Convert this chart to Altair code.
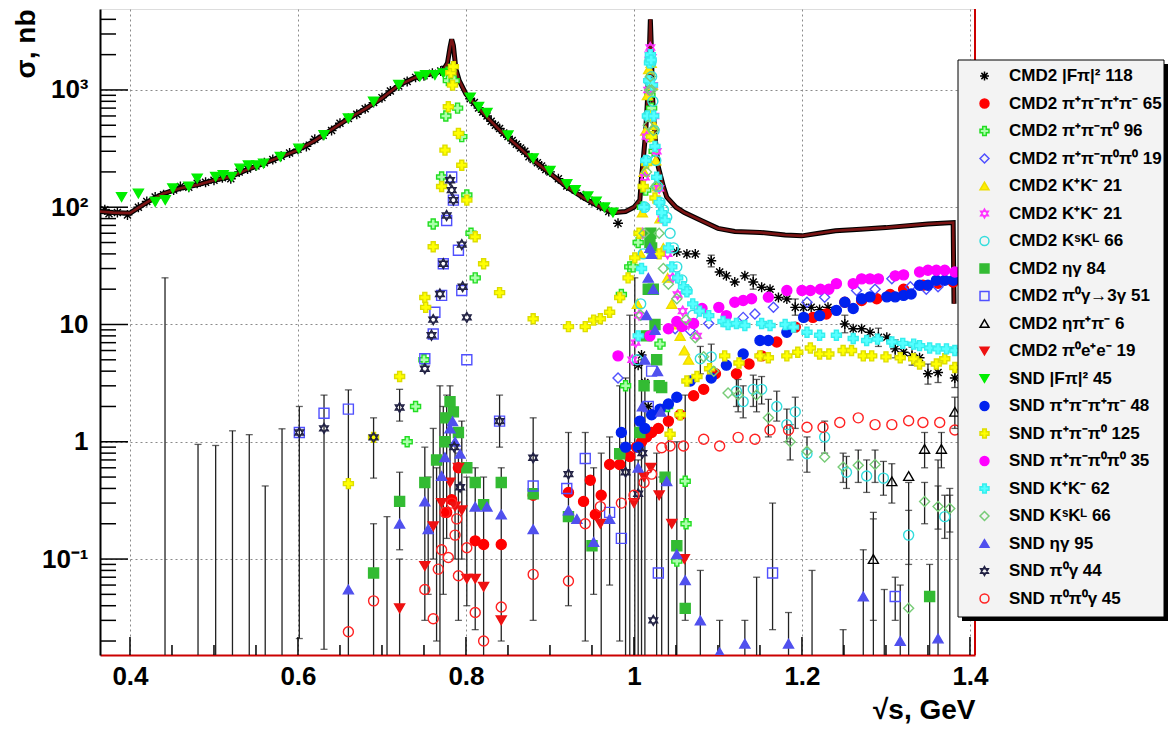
import altair as alt
import pandas as pd

# ---------------- data ----------------
# total cross-section histogram (brown curve)
hist_x = [0.364, 0.38, 0.40, 0.42, 0.44, 0.46, 0.48, 0.50, 0.52, 0.54, 0.56, 0.58, 0.60, 0.62, 0.64,
          0.66, 0.68, 0.70, 0.72, 0.74, 0.755, 0.765, 0.773, 0.778, 0.781, 0.783, 0.785, 0.788, 0.792,
          0.80, 0.82, 0.84, 0.86, 0.88, 0.90, 0.92, 0.94, 0.96, 0.975, 0.99, 1.000, 1.007, 1.009,
          1.011, 1.014, 1.016, 1.018, 1.0195, 1.0205, 1.022, 1.025, 1.029, 1.035, 1.039, 1.05, 1.06,
          1.08, 1.10, 1.12, 1.15, 1.18, 1.20, 1.22, 1.24, 1.27, 1.30, 1.33, 1.35, 1.38, 1.381]
hist_y = [92, 90, 89, 110, 131, 145, 155, 170, 182, 210, 238, 270, 307, 370, 460,
          570, 690, 850, 1100, 1280, 1350, 1400, 1480, 1700, 2300, 2700, 2400, 1500, 1200,
          920, 640, 455, 340, 252, 195, 149, 120, 100, 90, 92, 100, 115, 180,
          250, 450, 800, 1800, 4000, 2500, 900, 400, 220, 150, 122, 100, 90,
          77, 66, 62, 61, 58, 57, 60, 63, 65, 67, 70, 72, 74, 15]

cmd2_fpi = [(0.370, 95), (0.375, 88), (0.385, 90), (0.397, 86), (0.410, 100), (0.420, 112), (0.430, 122),
            (0.440, 128), (0.452, 140), (0.460, 150), (0.470, 148), (0.480, 160), (0.490, 163), (0.500, 170),
            (0.510, 178), (0.520, 175), (0.530, 200), (0.540, 212), (0.550, 225), (0.560, 240), (0.570, 255),
            (0.580, 272), (0.590, 290), (0.600, 312), (0.610, 330), (0.620, 380), (0.630, 410), (0.640, 450),
            (0.650, 520), (0.660, 570), (0.670, 620), (0.680, 690), (0.690, 780), (0.700, 860), (0.710, 980),
            (0.720, 1080), (0.730, 1180), (0.740, 1280), (0.750, 1320), (0.760, 1390), (0.770, 1450),
            (0.775, 1500), (0.805, 840), (0.810, 780), (0.815, 700), (0.820, 650), (0.825, 600), (0.830, 540),
            (0.835, 500), (0.840, 470), (0.845, 430), (0.850, 400), (0.855, 370), (0.860, 345), (0.865, 320),
            (0.870, 300), (0.875, 270), (0.880, 255), (0.885, 240), (0.890, 225), (0.895, 210), (0.900, 200),
            (0.910, 175), (0.920, 152), (0.930, 140), (0.940, 125), (0.950, 112), (0.960, 102), (0.970, 92),
            (0.981, 73), (1.005, 4.5), (1.009, 5.5), (1.013, 3.2), (1.017, 2.0), (1.051, 41.5), (1.063, 40),
            (1.073, 40), (1.092, 35), (1.102, 28), (1.110, 26), (1.120, 23), (1.132, 26), (1.142, 23),
            (1.152, 20.8), (1.162, 20), (1.172, 17), (1.182, 16.5), (1.192, 14), (1.202, 14), (1.211, 14),
            (1.221, 13.4), (1.231, 14), (1.251, 10.1), (1.261, 9.2), (1.271, 9.2), (1.281, 8.6), (1.291, 7.8),
            (1.301, 7.8), (1.311, 6.2), (1.321, 5.8), (1.331, 5.4), (1.340, 5.2), (1.350, 3.8), (1.362, 3.9),
            (1.382, 3.5)]
cmd2_4pi = [(0.777, 0.25), (0.783, 0.32), (0.791, 0.6), (0.811, 0.143), (0.821, 0.133), (0.842, 0.133),
            (0.880, 0.35), (0.922, 0.37), (0.940, 0.31), (0.948, 0.47), (0.954, 0.24), (0.961, 0.35),
            (0.971, 0.64), (0.983, 0.64), (0.995, 0.75), (1.003, 0.9), (1.009, 1.0), (1.015, 1.1),
            (1.021, 1.2), (1.029, 1.3), (1.041, 1.5), (1.055, 1.7), (1.071, 2.47), (1.083, 2.8),
            (1.097, 3.8), (1.122, 3.8), (1.137, 4.6), (1.152, 5.4), (1.170, 7.1), (1.192, 9.5),
            (1.213, 11.5), (1.229, 12.3), (1.251, 15.5), (1.271, 16), (1.289, 16.6), (1.305, 18),
            (1.321, 20), (1.344, 21.6), (1.362, 22.5), (1.380, 23)]
cmd2_3pi = [(0.730, 1.0), (0.740, 2.0), (0.750, 5), (0.761, 72), (0.771, 181), (0.776, 600), (0.779, 1200),
            (0.782, 1500), (0.786, 1200), (0.790, 700), (0.795, 400), (0.801, 127), (0.806, 60), (0.811, 25),
            (0.983, 0.79), (0.985, 18), (0.990, 3), (0.995, 31), (0.999, 31), (1.005, 50), (1.010, 100),
            (1.014, 140), (1.017, 400), (1.019, 900), (1.021, 700), (1.024, 300), (1.028, 150), (1.031, 6.8),
            (1.040, 2), (1.051, 0.096), (1.061, 0.46), (1.062, 0.2)]
cmd2_2pi2pi0 = [(0.981, 3.5), (1.049, 9.2), (1.067, 8.9), (1.089, 10.2), (1.130, 11.5), (1.144, 12.3),
                (1.166, 14), (1.206, 15.5), (1.227, 17.1), (1.265, 19.5), (1.287, 20), (1.307, 24.5),
                (1.329, 21), (1.348, 20), (1.362, 21)]
cmd2_kk_a = [(1.004, 15), (1.008, 40), (1.010, 90), (1.012, 200), (1.014, 450), (1.016, 900), (1.0175, 1500),
             (1.019, 1900), (1.0205, 1700), (1.022, 1100), (1.024, 500), (1.026, 250), (1.028, 150),
             (1.031, 80), (1.035, 45), (1.040, 25), (1.045, 15), (1.050, 10), (1.055, 8), (1.060, 6), (1.065, 5)]
cmd2_kk_b = [(0.998, 5), (1.002, 7), (1.006, 12), (1.010, 60), (1.013, 180), (1.015, 400), (1.017, 1000),
             (1.0185, 2000), (1.0195, 2300), (1.021, 1900), (1.0225, 1100), (1.024, 600), (1.027, 300),
             (1.030, 145), (1.034, 80), (1.040, 40), (1.046, 25), (1.052, 18), (1.058, 13), (1.065, 10),
             (1.075, 8)]
cmd2_kskl = [(1.004, 5), (1.008, 15), (1.011, 40), (1.013, 100), (1.015, 250), (1.0165, 600), (1.018, 1200),
             (1.019, 1800), (1.020, 1700), (1.021, 1300), (1.0225, 800), (1.024, 450), (1.026, 250),
             (1.028, 150), (1.031, 110), (1.035, 95), (1.039, 82), (1.043, 60), (1.047, 45), (1.051, 31),
             (1.057, 24), (1.063, 19.5), (1.070, 12), (1.079, 5.1), (1.092, 5.3), (1.122, 2.7), (1.130, 2.2),
             (1.142, 2.8), (1.152, 2.8), (1.170, 2.0), (1.182, 1.4), (1.192, 1.8), (1.206, 0.79), (1.227, 1.1),
             (1.253, 0.55), (1.277, 0.51), (1.297, 0.49), (1.327, 0.16), (1.370, 0.23)]
cmd2_etagamma = [(0.690, 0.076), (0.721, 0.31), (0.751, 0.45), (0.765, 0.7), (0.775, 1.0), (0.776, 1.6),
                 (0.781, 2.2), (0.785, 1.8), (0.791, 1.2), (0.801, 0.6), (0.811, 0.45), (0.821, 0.29),
                 (0.842, 0.45), (0.880, 0.36), (0.922, 0.23), (0.950, 0.13), (0.983, 0.79), (1.007, 1.2),
                 (1.012, 3), (1.015, 8), (1.017, 20), (1.019, 50), (1.020, 60), (1.021, 45), (1.023, 20),
                 (1.025, 10), (1.027, 5), (1.030, 3), (1.033, 2.9), (1.037, 0.5), (1.051, 0.13), (1.061, 0.038),
                 (1.352, 0.048)]
cmd2_pi0gamma = [(0.6016, 1.2), (0.631, 1.75), (0.660, 1.9), (0.751, 5.1), (0.761, 8.3), (0.763, 12.7),
                 (0.771, 17.7), (0.773, 33), (0.777, 77), (0.783, 181), (0.785, 115), (0.791, 43), (0.795, 19.5),
                 (0.801, 5), (0.840, 1.5), (0.880, 0.42), (0.920, 0.4), (0.942, 0.72), (0.971, 0.25),
                 (0.985, 0.15), (1.017, 2), (1.021, 4), (1.029, 0.076), (1.165, 0.076), (1.311, 0.048)]
cmd2_etapipi = [(1.285, 0.10), (1.307, 0.46), (1.327, 0.51), (1.346, 0.87), (1.366, 0.87), (1.382, 1.8)]
cmd2_pi0ee = [(0.721, 0.038), (0.751, 0.087), (0.761, 0.19), (0.771, 0.3), (0.781, 0.45), (0.787, 0.28),
              (0.791, 0.6), (0.795, 0.26), (0.801, 0.068), (0.811, 0.068), (0.821, 0.058), (0.842, 0.030),
              (0.960, 0.2), (1.000, 0.3), (1.012, 0.5), (1.020, 0.6), (1.030, 0.35), (1.045, 0.2), (1.060, 0.1)]
snd_fpi = [(0.390, 122), (0.410, 131), (0.430, 111), (0.442, 115), (0.451, 145), (0.470, 150), (0.480, 176),
           (0.502, 182), (0.511, 188), (0.521, 182), (0.531, 214), (0.541, 228), (0.551, 228), (0.559, 236),
           (0.579, 269), (0.601, 317), (0.631, 412), (0.660, 573), (0.690, 795), (0.720, 1104), (0.745, 1300),
           (0.752, 1340), (0.763, 1340), (0.773, 1390), (0.805, 860), (0.815, 720), (0.825, 640), (0.850, 410),
           (0.880, 262), (0.900, 205), (0.920, 158), (0.930, 140), (0.945, 124), (0.955, 112), (0.965, 100),
           (0.975, 90)]
snd_4pi = [(0.985, 1.2), (0.990, 0.9), (1.005, 0.9), (1.007, 1.5), (1.013, 1.3), (1.021, 1.7), (1.031, 1.9),
           (1.041, 2.1), (1.051, 2.4), (1.067, 3.3), (1.092, 3.5), (1.110, 4.5), (1.130, 5.6), (1.150, 7.3),
           (1.160, 7.3), (1.182, 8.6), (1.202, 11.5), (1.221, 11.9), (1.241, 13.2), (1.251, 15.5),
           (1.261, 13.7), (1.271, 16.6), (1.281, 17.2), (1.301, 17.2), (1.311, 17.2), (1.321, 17.7),
           (1.330, 18.2), (1.340, 21.6), (1.350, 21.6), (1.360, 23.8), (1.370, 23.8), (1.380, 23.8)]
snd_3pi = [(0.660, 0.44), (0.690, 1.09), (0.721, 3.6), (0.751, 17), (0.752, 14), (0.761, 46), (0.771, 150),
           (0.775, 307), (0.779, 720), (0.782, 1400), (0.784, 1100), (0.785, 1580), (0.791, 426), (0.795, 228),
           (0.801, 115), (0.811, 56), (0.821, 33), (0.840, 18.7), (0.880, 11.2), (0.922, 9.6), (0.942, 9.6),
           (0.952, 10.9), (0.960, 11.2), (0.971, 12.7), (0.983, 17), (0.993, 25), (1.001, 37), (1.006, 60),
           (1.011, 150), (1.015, 236), (1.019, 600), (1.021, 400), (1.025, 120), (1.030, 40), (1.043, 1.16),
           (1.055, 1.7), (1.063, 3.3), (1.075, 3.6), (1.090, 4.2), (1.108, 5.4), (1.125, 4.7), (1.150, 5.4),
           (1.160, 5.2), (1.182, 5.4), (1.195, 5.8), (1.210, 6.3), (1.221, 5.6), (1.232, 5.6), (1.249, 6.0),
           (1.259, 6.0), (1.273, 5.4), (1.283, 5.4), (1.300, 5.3), (1.317, 5.2), (1.333, 5.1), (1.340, 4.6),
           (1.360, 4.6), (1.370, 5.1), (1.382, 4.3)]
snd_2pi2pi0 = [(0.981, 5.4), (1.019, 8), (1.041, 9.2), (1.051, 10.6), (1.057, 9.6), (1.071, 10.2),
               (1.081, 13.7), (1.101, 14), (1.110, 11.9), (1.120, 15.5), (1.130, 16), (1.140, 16.6),
               (1.160, 17.1), (1.182, 19.5), (1.200, 19.5), (1.210, 19.5), (1.222, 20), (1.232, 20),
               (1.241, 22.3), (1.261, 22.3), (1.271, 24.5), (1.281, 24.5), (1.291, 24.5), (1.311, 26),
               (1.321, 26.5), (1.340, 28), (1.350, 29), (1.360, 29), (1.370, 29), (1.382, 28)]
snd_kk = [(1.005, 8), (1.009, 30), (1.012, 100), (1.014, 250), (1.016, 600), (1.0175, 1200), (1.0185, 1700),
          (1.0195, 2000), (1.0205, 1800), (1.022, 1100), (1.0235, 600), (1.025, 330), (1.027, 180),
          (1.030, 110), (1.033, 90), (1.037, 77), (1.041, 45), (1.045, 31), (1.052, 25), (1.059, 21),
          (1.063, 19), (1.070, 15), (1.078, 13), (1.089, 11.9), (1.106, 10.6), (1.112, 10), (1.122, 10.2),
          (1.132, 9.8), (1.152, 10.2), (1.162, 9.8), (1.180, 10), (1.190, 9.5), (1.206, 8.6), (1.221, 8.1),
          (1.241, 8.1), (1.261, 7.6), (1.277, 7.3), (1.290, 7.5), (1.307, 7.1), (1.320, 6.9), (1.333, 6.8),
          (1.340, 6.6), (1.352, 6.3), (1.362, 6.2), (1.372, 6.2), (1.382, 6.0)]
snd_kskl = [(1.008, 12), (1.012, 60), (1.015, 200), (1.017, 500), (1.0185, 1000), (1.0195, 1300),
            (1.021, 1000), (1.023, 450), (1.026, 150), (1.030, 60), (1.035, 30), (1.041, 22), (1.051, 16.6),
            (1.062, 11), (1.073, 7.7), (1.083, 5.3), (1.095, 4), (1.112, 2.6), (1.124, 2.5), (1.146, 2.5),
            (1.160, 1.6), (1.186, 1.0), (1.206, 0.83), (1.227, 0.74), (1.249, 0.61), (1.267, 0.63),
            (1.287, 0.64), (1.327, 0.038), (1.346, 0.31), (1.362, 0.28), (1.376, 0.27)]
snd_etagamma = [(0.660, 0.055), (0.721, 0.2), (0.751, 0.31), (0.755, 0.18), (0.771, 0.51), (0.775, 0.74),
                (0.781, 1.3), (0.784, 1.5), (0.787, 1.0), (0.793, 0.79), (0.811, 0.28), (0.825, 0.28),
                (0.842, 0.24), (0.880, 0.18), (0.922, 0.26), (0.932, 0.22), (0.952, 0.14), (0.971, 0.22),
                (1.005, 0.6), (1.010, 2), (1.013, 5), (1.015, 12), (1.017, 25), (1.019, 45), (1.021, 40),
                (1.023, 20), (1.025, 9), (1.028, 4), (1.032, 1.8), (1.039, 0.46), (1.051, 0.11), (1.061, 0.066),
                (1.079, 0.030), (1.102, 0.016), (1.132, 0.019), (1.184, 0.019), (1.273, 0.048), (1.317, 0.020),
                (1.362, 0.021)]
snd_pi0gamma = [(0.6016, 1.2), (0.631, 1.3), (0.690, 1.09), (0.721, 1.96), (0.751, 4.2), (0.759, 8.1),
                (0.761, 11), (0.769, 18.2), (0.773, 33), (0.777, 85), (0.781, 170), (0.783, 140), (0.785, 115),
                (0.786, 0.9), (0.793, 0.41), (0.795, 48), (0.796, 21), (0.801, 11.5), (0.840, 1.5),
                (0.880, 0.73), (0.922, 0.53), (0.990, 0.55), (1.005, 0.36), (1.010, 0.8), (1.023, 0.03)]
snd_pi0pi0gamma = [(0.660, 0.024), (0.690, 0.044), (0.751, 0.055), (0.761, 0.031), (0.767, 0.082),
                   (0.771, 0.12), (0.775, 0.25), (0.779, 0.103), (0.783, 0.3), (0.787, 0.16), (0.789, 0.22),
                   (0.791, 0.072), (0.801, 0.125), (0.811, 0.035), (0.821, 0.020), (0.842, 0.039),
                   (0.880, 0.074), (0.922, 0.065), (0.942, 0.2), (0.960, 0.28), (0.985, 0.3), (1.000, 0.35),
                   (1.012, 0.45), (1.021, 0.53), (1.033, 0.89), (1.043, 0.92), (1.059, 0.92), (1.083, 1.05),
                   (1.102, 0.92), (1.124, 1.09), (1.144, 1.05), (1.162, 1.26), (1.184, 1.26), (1.206, 1.33),
                   (1.225, 1.33), (1.245, 1.46), (1.267, 1.6), (1.287, 1.4), (1.307, 1.4), (1.327, 1.51),
                   (1.344, 1.46), (1.364, 1.46), (1.382, 1.26)]

# error bars: (x, low, high)
error_bars = [(0.4417, 0.0152, 25), (0.481, 0.0152, 0.95), (0.502, 0.0152, 0.93), (0.522, 0.0152, 1.24),
              (0.542, 0.0152, 1.15), (0.561, 0.0152, 0.42), (0.581, 0.0152, 1.29), (0.6016, 0.021, 2.0),
              (0.631, 0.017, 2.5), (0.660, 0.0152, 2.77), (0.690, 0.49, 1.6), (0.690, 0.0152, 0.2),
              (0.706, 0.0152, 0.23), (0.721, 0.12, 0.55), (0.721, 0.0152, 0.1), (0.721, 1.5, 2.8),
              (0.751, 0.03, 0.9), (0.755, 0.05, 0.5), (0.761, 0.1, 1.3), (0.765, 0.02, 0.6),
              (0.769, 0.0152, 3), (0.773, 0.05, 2), (0.777, 0.15, 2.5), (0.781, 0.3, 3), (0.787, 0.1, 1.2),
              (0.791, 0.03, 0.8), (0.795, 0.1, 1.5), (0.801, 0.04, 0.5), (0.811, 0.025, 0.6),
              (0.821, 0.0152, 0.5), (0.842, 0.02, 0.6), (0.880, 0.03, 1.6), (0.922, 0.04, 1.2),
              (0.840, 0.9, 2.5), (0.942, 0.02, 1.2), (0.952, 0.05, 0.6), (0.961, 0.0152, 0.8),
              (0.971, 0.06, 1.1), (0.983, 0.02, 3), (0.990, 0.0152, 3.5), (0.995, 0.0152, 12),
              (1.001, 0.0152, 25), (1.005, 0.0152, 0.7), (1.009, 0.0152, 5), (1.013, 0.0152, 3),
              (1.027, 0.0152, 0.8), (1.033, 0.0152, 0.5), (1.041, 0.0152, 2), (1.051, 0.0152, 1.0),
              (1.061, 0.03, 2.5), (1.079, 0.0152, 0.08), (1.102, 0.0152, 0.03), (1.132, 0.0152, 0.03),
              (1.146, 0.0152, 0.07), (1.165, 0.025, 0.3), (1.184, 0.0152, 0.035), (1.212, 0.0152, 0.08),
              (1.249, 0.0152, 0.025), (1.273, 0.0152, 0.12), (1.285, 0.0152, 0.22), (1.298, 0.0152, 0.055),
              (1.311, 0.03, 0.07), (1.317, 0.0152, 0.06), (1.327, 0.0152, 0.45), (1.352, 0.0152, 0.09),
              (1.362, 0.0152, 0.7), (1.376, 0.0152, 0.35), (1.079, 3.8, 6.5), (1.092, 4.0, 6.8),
              (1.122, 2.0, 3.6), (1.130, 1.6, 3.0), (1.142, 2.0, 3.7), (1.152, 2.1, 3.6), (1.170, 1.5, 2.7),
              (1.182, 1.0, 1.9), (1.192, 1.3, 2.4), (1.206, 0.55, 1.1), (1.227, 0.8, 1.5), (1.253, 0.4, 0.75),
              (1.277, 0.37, 0.7), (1.297, 0.35, 0.68), (1.327, 0.09, 0.26), (1.370, 0.15, 0.35),
              (1.346, 0.2, 0.45), (1.362, 0.18, 0.42), (1.376, 0.17, 0.4), (1.307, 0.3, 0.65),
              (1.285, 0.03, 0.25), (1.124, 1.8, 3.4), (1.146, 1.8, 3.4), (1.160, 1.1, 2.3), (1.186, 0.7, 1.4),
              (1.249, 0.45, 0.8), (1.267, 0.45, 0.85), (1.287, 0.45, 0.85), (1.346, 0.6, 1.2),
              (1.366, 0.6, 1.2), (1.382, 1.3, 2.4), (1.251, 8.5, 12), (1.291, 6.5, 9.3), (1.311, 5.2, 7.4),
              (1.331, 4.5, 6.4), (1.350, 3.1, 4.6), (1.362, 3.2, 4.7), (1.382, 2.9, 4.2), (1.192, 12, 16.5),
              (1.142, 20, 26.5), (1.092, 31, 39)]

series_names = ["CMD2 |Fπ|² 118", "CMD2 π⁺π⁻π⁺π⁻ 65", "CMD2 π⁺π⁻π⁰ 96", "CMD2 π⁺π⁻π⁰π⁰ 19",
                "CMD2 K⁺K⁻ 21", "CMD2 K⁺K⁻ 21\u200b", "CMD2 KˢKᴸ 66", "CMD2 ηγ 84",
                "CMD2 π⁰γ→3γ 51", "CMD2 ηπ⁺π⁻ 6", "CMD2 π⁰e⁺e⁻ 19", "SND |Fπ|² 45",
                "SND π⁺π⁻π⁺π⁻ 48", "SND π⁺π⁻π⁰ 125", "SND π⁺π⁻π⁰π⁰ 35", "SND K⁺K⁻ 62",
                "SND KˢKᴸ 66", "SND ηγ 95", "SND π⁰γ 44", "SND π⁰π⁰γ 45"]
series_points = [cmd2_fpi, cmd2_4pi, cmd2_3pi, cmd2_2pi2pi0, cmd2_kk_a, cmd2_kk_b, cmd2_kskl,
                 cmd2_etagamma, cmd2_pi0gamma, cmd2_etapipi, cmd2_pi0ee, snd_fpi, snd_4pi, snd_3pi,
                 snd_2pi2pi0, snd_kk, snd_kskl, snd_etagamma, snd_pi0gamma, snd_pi0pi0gamma]

x_major = [0.4, 0.6, 0.8, 1.0, 1.2, 1.4]
x_minor = [0.45, 0.5, 0.55, 0.65, 0.7, 0.75, 0.85, 0.9, 0.95, 1.05, 1.1, 1.15, 1.25, 1.3, 1.35]
y_major = [0.1, 1, 10, 100, 1000]
y_minor = [0.02, 0.03, 0.04, 0.05, 0.06, 0.07, 0.08, 0.09, 0.2, 0.3, 0.4, 0.5, 0.6, 0.7, 0.8, 0.9,
           2, 3, 4, 5, 6, 7, 8, 9, 20, 30, 40, 50, 60, 70, 80, 90, 200, 300, 400, 500, 600, 700, 800, 900,
           2000, 3000, 4000]

# ---------------- styles ----------------
ASTER = "M-1,0L1,0M0,-1L0,1M-0.7,-0.7L0.7,0.7M-0.7,0.7L0.7,-0.7"
STAR6 = "M0,-1L0.866,0.5L-0.866,0.5Z M0,1L0.866,-0.5L-0.866,-0.5Z"
T = "transparent"
fill_colors = [T, "#ff0000", "#aaffaa", T, "#ffee00", T, T, "#33bb33", T, T, "#ee1111",
               "#00ee00", "#0022ee", "#ffff00", "#ff00ff", "#55ffff", T, "#5050ee", T, T]
stroke_colors = ["#000000", "#ff0000", "#22dd22", "#5050ff", "#eedd00", "#ff33ff", "#33dddd", "#33bb33",
                 "#5050ff", "#000000", "#ee1111", "#00ee00", "#0022ee", "#dddd00", "#ff00ff", "#33eeee",
                 "#77cc77", "#5050ee", "#222244", "#ff2222"]
shapes = [ASTER, "circle", "cross", "diamond", "triangle-up", STAR6, "circle", "square", "square",
          "triangle-up", "triangle-down", "triangle-down", "circle", "cross", "circle", "cross",
          "diamond", "triangle-up", STAR6, "circle"]

rows = []
for name, pts in zip(series_names, series_points):
    for px, py in pts:
        rows.append({"series": name, "x": px, "y": py})
df = pd.DataFrame(rows)
df_fpi = df[df["series"] == series_names[0]]
df_rest = df[df["series"] != series_names[0]]

hist_df = pd.DataFrame({"x": hist_x, "y": hist_y})
err_df = pd.DataFrame(error_bars, columns=["x", "y", "hi"])
caps = [{"x": e[0], "y": e[2]} for e in error_bars] + \
       [{"x": e[0], "y": e[1]} for e in error_bars if e[1] > 0.016]
caps_df = pd.DataFrame(caps)

W, H = 875, 646
FONT = "Liberation Sans"
xscale = alt.Scale(domain=[0.3643, 1.406], nice=False, zero=False)
yscale = alt.Scale(type="log", domain=[0.0152, 4900], nice=False)

x_axis = alt.Axis(values=x_major, format="~g", labelFont=FONT, labelFontSize=26, labelFontWeight="bold",
                  labelColor="black", labelPadding=8, ticks=False, domainColor="#cc0000", domainWidth=2,
                  grid=True, gridDash=[2, 3], gridColor="#8a8a8a", gridWidth=1,
                  titleFont=FONT, titleFontSize=28, titleFontWeight="bold", titleColor="black",
                  titleAnchor="end", titleAlign="right", titleX=W, titleY=55, titleBaseline="middle")
y_axis = alt.Axis(values=y_major,
                  labelExpr="datum.value == 1000 ? '10³' : datum.value == 100 ? '10²' : datum.value == 10 ? '10' : datum.value == 1 ? '1' : '10⁻¹'",
                  labelFont=FONT, labelFontSize=26, labelFontWeight="bold", labelColor="black",
                  labelPadding=12, ticks=False, domainColor="black", domainWidth=2,
                  grid=True, gridDash=[2, 3], gridColor="#8a8a8a", gridWidth=1,
                  titleFont=FONT, titleFontSize=28, titleFontWeight="bold", titleColor="black",
                  titleAngle=270, titleAlign="right", titleBaseline="middle", titleX=-74, titleY=0)
X_TITLE = "√s, GeV"
Y_TITLE = "σ, nb"


def X(field):
    return alt.X(field, type="quantitative", scale=xscale, axis=x_axis, title=X_TITLE)


def Y(field):
    return alt.Y(field, type="quantitative", scale=yscale, axis=y_axis, title=Y_TITLE)


legend = alt.Legend(orient="none", legendX=876, legendY=58.5, title=None, padding=0,
                    labelFont=FONT, labelFontSize=17, labelFontWeight="bold", labelColor="black",
                    labelOffset=16, labelLimit=400, rowPadding=9.5, symbolSize=80,
                    symbolStrokeWidth=1.5, zindex=1)

enc_fill = alt.Fill("series:N", scale=alt.Scale(domain=series_names, range=fill_colors), legend=legend)
enc_stroke = alt.Stroke("series:N", scale=alt.Scale(domain=series_names, range=stroke_colors), legend=legend)
enc_shape = alt.Shape("series:N", scale=alt.Scale(domain=series_names, range=shapes), legend=legend)

# error bars
err_layer = alt.Chart(err_df).mark_rule(color="#222222", strokeWidth=1.3, clip=True).encode(
    x=X("x"), y=Y("y"), y2="hi:Q")
cap_layer = alt.Chart(caps_df).mark_tick(orient="horizontal", size=7, thickness=1.3, color="#222222",
                                         clip=True).encode(x=X("x"), y=Y("y"))

# inward ticks
ytick_major = alt.Chart(pd.DataFrame({"y": y_major})).mark_rule(color="black", strokeWidth=1.5).encode(
    y=Y("y"), x=alt.value(0), x2=alt.value(28))
ytick_minor = alt.Chart(pd.DataFrame({"y": y_minor})).mark_rule(color="black", strokeWidth=1.5).encode(
    y=Y("y"), x=alt.value(0), x2=alt.value(16))
xtick_major = alt.Chart(pd.DataFrame({"x": x_major})).mark_rule(color="black", strokeWidth=1.5).encode(
    x=X("x"), y=alt.value(H), y2=alt.value(H - 18))
xtick_minor = alt.Chart(pd.DataFrame({"x": x_minor})).mark_rule(color="black", strokeWidth=1.5).encode(
    x=X("x"), y=alt.value(H), y2=alt.value(H - 10))

pts_fpi = alt.Chart(df_fpi).mark_point(size=100, strokeWidth=1.4, opacity=1, clip=True).encode(
    x=X("x"), y=Y("y"), fill=enc_fill, stroke=enc_stroke, shape=enc_shape)

hist_black = alt.Chart(hist_df).mark_line(color="black", strokeWidth=5, clip=True).encode(
    x=X("x"), y=Y("y"))
hist_brown = alt.Chart(hist_df).mark_line(color="#7a1414", strokeWidth=2.6, clip=True).encode(
    x=X("x"), y=Y("y"))

pts_rest = alt.Chart(df_rest).mark_point(size=100, strokeWidth=1.4, opacity=1, clip=True).encode(
    x=X("x"), y=Y("y"), fill=enc_fill, stroke=enc_stroke, shape=enc_shape)

# frame piece and legend box (decoration)
right_edge = alt.Chart(pd.DataFrame({"a": [0]})).mark_rule(color="#cc0000", strokeWidth=2).encode(
    x=alt.value(W), y=alt.value(0), y2=alt.value(H))
box_shadow = alt.Chart(pd.DataFrame({"a": [0]})).mark_rect(color="black").encode(
    x=alt.value(862), x2=alt.value(1068), y=alt.value(55), y2=alt.value(612))
box = alt.Chart(pd.DataFrame({"a": [0]})).mark_rect(fill="#f3f3f3", stroke="black", strokeWidth=1).encode(
    x=alt.value(858), x2=alt.value(1064), y=alt.value(51), y2=alt.value(608))

chart = alt.layer(
    err_layer, cap_layer, ytick_major, ytick_minor, xtick_major, xtick_minor,
    pts_fpi, hist_black, hist_brown, pts_rest, right_edge, box_shadow, box
).properties(
    width=W, height=H,
    autosize=alt.AutoSizeParams(type="none"),
    padding={"left": 92, "top": 1, "right": 193, "bottom": 74},
).configure_view(stroke="#333333", strokeWidth=1.5).configure(background="white")

chart.save("out.html", embed_options={"renderer": "svg", "actions": False})
